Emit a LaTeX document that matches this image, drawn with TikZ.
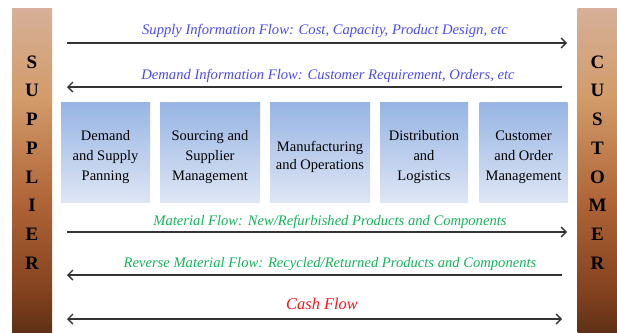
\documentclass[tikz,border=0pt]{standalone}
\usepackage{fontspec}
\setmainfont{Liberation Serif}
\usetikzlibrary{arrows.meta}

\definecolor{flowblue}{RGB}{75,75,245}
\definecolor{flowgreen}{RGB}{20,180,90}
\definecolor{flowred}{RGB}{250,20,30}
\definecolor{boxtop}{RGB}{150,180,228}
\definecolor{boxbot}{RGB}{222,230,244}
\definecolor{bartop}{RGB}{214,176,152}
\definecolor{barorange}{RGB}{210,155,105}
\definecolor{barmid}{RGB}{175,100,55}
\definecolor{barlow}{RGB}{130,65,30}
\definecolor{bardark}{RGB}{95,48,22}
\pgfdeclareverticalshading{barshade}{100bp}{color(0bp)=(bardark); color(25bp)=(bardark);
  color(31bp)=(barlow); color(45bp)=(barmid); color(61bp)=(barorange); color(75bp)=(bartop); color(100bp)=(bartop)}

% lowers the text of a stage box a little
\newcommand\stagetop{\rule{0pt}{20pt}}

\tikzset{
  sidebar/.style={shading=barshade, minimum width=40, minimum height=324, inner sep=0},
  barletter/.style={font=\bfseries\fontsize{19}{19}\selectfont, inner sep=0},
  stage/.style={top color=boxtop, bottom color=boxbot, minimum height=100, align=center,
    font=\fontsize{14.5}{20}\selectfont, inner sep=0},
  flow/.style={line width=1.7pt, draw=black!80},
  flowlabel/.style={font=\itshape\fontsize{14.6}{15}\selectfont, inner sep=0},
  barb/.tip={Straight Barb[length=5pt,width=10pt,line width=1.4pt]}
}

\begin{document}
\begin{tikzpicture}[x=1pt, y=-1pt]
\useasboundingbox (0,0) rectangle (617,332);

% side bars
\node[sidebar] (supplier) at (32,170) {};
\node[sidebar] (customer) at (597.5,170) {};
\foreach \ch [count=\i] in {S,U,P,P,L,I,E,R}
  \node[barletter] (sup\i) at (32, 62+28.7*\i-28.7) {\ch};
\foreach \ch [count=\i] in {C,U,S,T,O,M,E,R}
  \node[barletter] (cus\i) at (597.5, 62+28.7*\i-28.7) {\ch};

% stages
\node[stage, minimum width=89] (plan) at (105.5,152) {\stagetop Demand\\and Supply\\Panning};
\node[stage, minimum width=100] (source) at (210,152) {\stagetop Sourcing and\\Supplier\\Management};
\node[stage, minimum width=100, font=\fontsize{14.5}{18}\selectfont] (make) at (320,152) {\stagetop Manufacturing\\and Operations};
\node[stage, minimum width=88] (deliver) at (424,152) {\stagetop Distribution\\and\\Logistics};
\node[stage, minimum width=88] (order) at (523.5,152) {\stagetop Customer\\and Order\\Management};

% flows
\coordinate (s1) at (67,43);  \coordinate (c1) at (567,43);
\coordinate (s2) at (67,87);  \coordinate (c2) at (562,87);
\coordinate (s3) at (67,232); \coordinate (c3) at (567,232);
\coordinate (s4) at (67,275); \coordinate (c4) at (562,275);
\coordinate (s5) at (67,319); \coordinate (c5) at (562,319);

\draw[flow, -barb] (s1) -- (c1);
\draw[flow, -barb] (c2) -- (s2);
\draw[flow, -barb] (s3) -- (c3);
\draw[flow, -barb] (c4) -- (s4);
\draw[flow, barb-barb] (s5) -- (c5);

\node[flowlabel, text=flowblue] (supplyinfo) at (325,31) {Supply Information Flow: Cost, Capacity, Product Design, etc};
\node[flowlabel, text=flowblue] (demandinfo) at (328,76) {Demand Information Flow: Customer Requirement, Orders, etc};
\node[flowlabel, text=flowgreen] (material) at (330,222) {Material Flow: New/Refurbished Products and Components};
\node[flowlabel, text=flowgreen] (reverse) at (330,264) {Reverse Material Flow: Recycled/Returned Products and Components};
\node[flowlabel, text=flowred, font=\itshape\fontsize{16.4}{17}\selectfont] (cash) at (322,304) {Cash Flow};
\end{tikzpicture}
\end{document}
